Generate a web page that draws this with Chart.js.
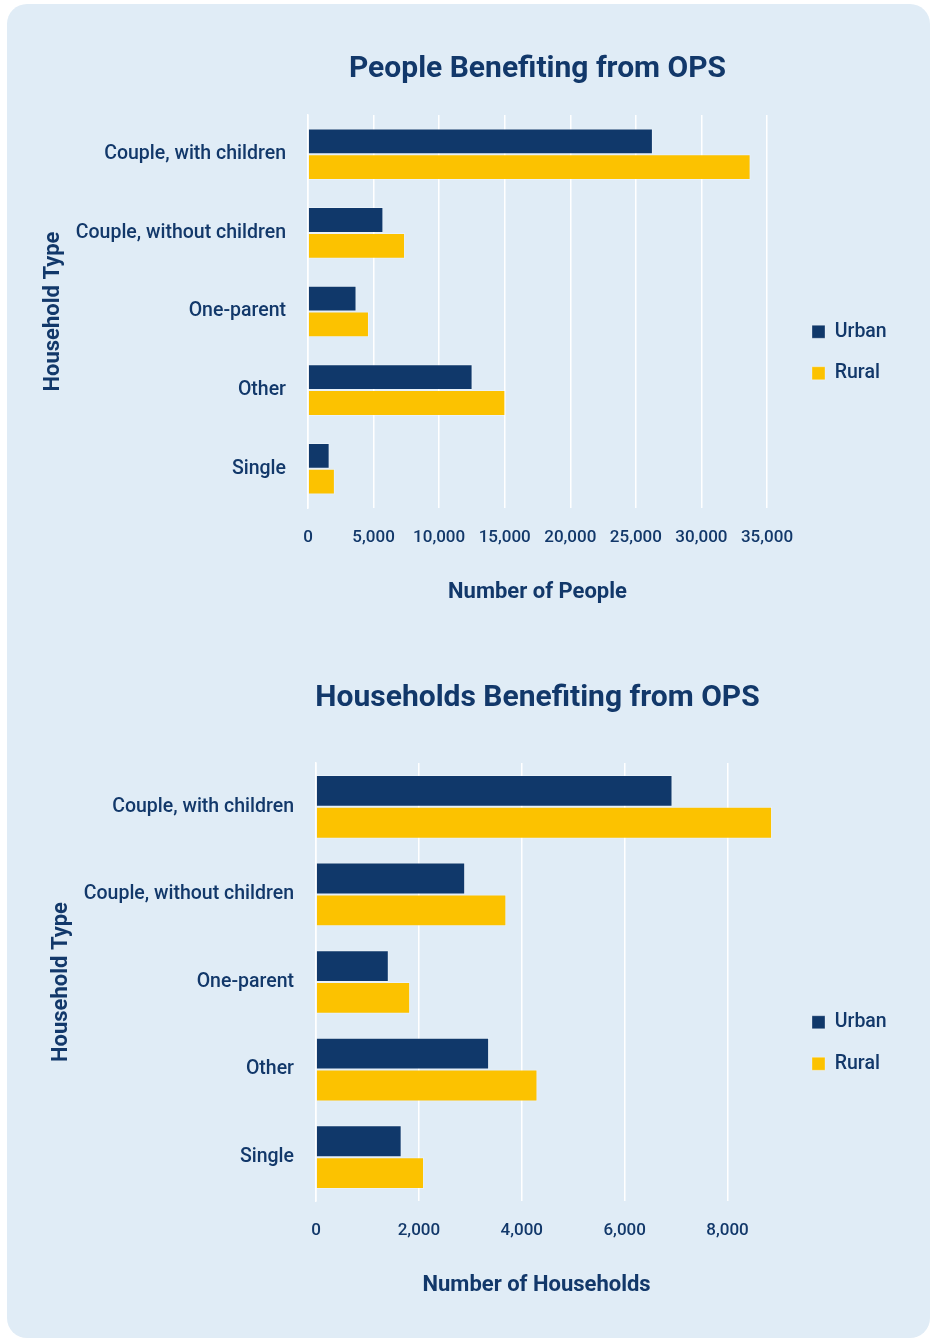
<!DOCTYPE html>
<html>
<head>
<meta charset="utf-8">
<script src="https://cdn.jsdelivr.net/npm/chart.js@4/dist/chart.umd.min.js"></script>
<style>
  html, body { margin: 0; padding: 0; background: #ffffff; overflow: hidden; width: 930px; height: 1338px; }
  #card { position: absolute; left: 7px; top: 4px; width: 923px; height: 1334px; background: #e0ecf6; border-radius: 20px; }
  canvas { position: absolute; left: 0; }
  #c1 { top: 0; }
  #c2 { top: 656px; }
</style>
</head>
<body>
<div id="card"></div>
<canvas id="c1" width="930" height="656"></canvas>
<canvas id="c2" width="930" height="682"></canvas>
<script>
const categories = ['Couple, with children', 'Couple, without children', 'One-parent', 'Other', 'Single'];
const seriesNames = ['Urban', 'Rural'];
const peopleUrban = [26300, 5750, 3700, 12550, 1650];
const peopleRural = [33750, 7400, 4650, 15050, 2050];
const householdsUrban = [6930, 2900, 1415, 3365, 1665];
const householdsRural = [8865, 3700, 1830, 4305, 2100];
const peopleTicks = [0, 5000, 10000, 15000, 20000, 25000, 30000, 35000];
const householdTicks = [0, 2000, 4000, 6000, 8000];

const NAVY = '#10386a';
const YELLOW = '#fcc200';
const TEXT = '#12386a';
const FONT = 'Roboto';

Chart.defaults.font.family = FONT;
Chart.defaults.color = TEXT;

const boxOffset = {
  id: 'boxOffset',
  afterLayout(chart, args, opts) {
    const lg = chart.legend;
    if (lg) {
      const dx = opts.legendX || 0, dy = opts.legendY || 0;
      lg.left += dx; lg.top += dy; lg.bottom += dy;
      lg.right = chart.width;
      lg.width = lg.right - lg.left;
    }
    const tt = chart.titleBlock;
    if (tt) {
      const tx = opts.titleX || 0;
      tt.left += tx; tt.right += tx;
    }
  }
};

function makeChart(id, cfg) {
  const ctx = document.getElementById(id);
  return new Chart(ctx, {
    type: 'bar',
    plugins: [boxOffset],
    data: {
      labels: categories,
      datasets: [
        { label: seriesNames[0], data: cfg.urban, backgroundColor: NAVY, borderColor: 'rgba(255,255,255,0.3)', borderWidth: 1, barPercentage: 1, categoryPercentage: cfg.catPct },
        { label: seriesNames[1], data: cfg.rural, backgroundColor: YELLOW, borderColor: 'rgba(255,255,255,0.3)', borderWidth: 1, barPercentage: 1, categoryPercentage: cfg.catPct }
      ]
    },
    options: {
      indexAxis: 'y',
      responsive: false,
      animation: false,
      devicePixelRatio: 1,
      layout: { padding: { top: cfg.padTop, bottom: 0, left: 20, right: cfg.padRight } },
      plugins: {
        boxOffset: { legendX: cfg.legendDx, legendY: cfg.legendDy, titleX: cfg.titleDx },
        title: {
          display: true,
          text: cfg.title,
          fullSize: false,
          color: TEXT,
          font: { family: FONT, size: 30, weight: 'bold' },
          padding: { top: 0, bottom: cfg.titlePadBottom }
        },
        legend: {
          position: 'right',
          maxWidth: 90,
          labels: {
            boxWidth: 13,
            boxHeight: 13,
            padding: 22,
            color: TEXT,
            font: { family: FONT, size: 19.5, weight: '500' }
          }
        },
        tooltip: { enabled: false }
      },
      scales: {
        x: {
          min: 0,
          max: cfg.max,
          afterBuildTicks: (scale) => { scale.ticks = cfg.ticks.map(v => ({ value: v })); },
          afterFit: (scale) => { scale.height = cfg.xHeight; },
          grid: { color: '#ffffff', lineWidth: 1.5, drawTicks: false },
          border: { display: false },
          ticks: { padding: 20, color: TEXT, font: { family: FONT, size: 17, weight: '500' }, maxRotation: 0, autoSkip: false },
          title: { display: true, text: cfg.xTitle, color: TEXT, font: { family: FONT, size: 22, weight: 'bold' }, padding: { top: 0, bottom: cfg.xTitlePadBottom } }
        },
        y: {
          afterFit: (scale) => { scale.width = cfg.yWidth; },
          grid: { display: false, drawTicks: false },
          border: { display: true, color: '#ffffff', width: 1.5 },
          ticks: { padding: 22, color: TEXT, font: { family: FONT, size: 19.5, weight: '500' } },
          title: { display: true, text: 'Household Type', color: TEXT, font: { family: FONT, size: 22, weight: 'bold' }, padding: { top: cfg.yTitlePadTop, bottom: 0 } }
        }
      }
    }
  });
}

makeChart('c1', {
  urban: peopleUrban, rural: peopleRural,
  title: 'People Benefiting from OPS', xTitle: 'Number of People',
  max: 35000, ticks: peopleTicks, catPct: 0.656,
  padTop: 51, padRight: 73, titlePadBottom: 28,
  xHeight: 148, xTitlePadBottom: 50,
  yWidth: 288, yTitlePadTop: 20,
  legendDx: 23, legendDy: -1, titleDx: 0
});

makeChart('c2', {
  urban: householdsUrban, rural: householdsRural,
  title: 'Households Benefiting from OPS', xTitle: 'Number of Households    ',
  max: 9000, ticks: householdTicks, catPct: 0.727,
  padTop: 24, padRight: 61, titlePadBottom: 47,
  xHeight: 137, xTitlePadBottom: 39,
  yWidth: 296, yTitlePadTop: 28,
  legendDx: 11, legendDy: 34, titleDx: -10
});
</script>
</body>
</html>
